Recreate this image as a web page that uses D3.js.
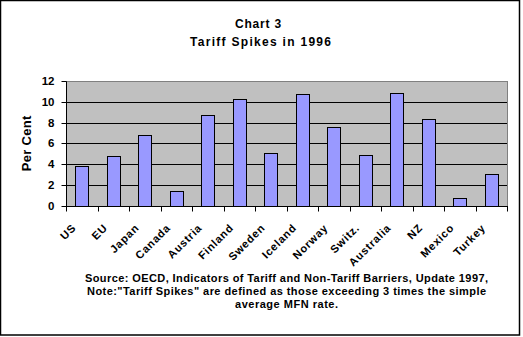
<!DOCTYPE html>
<html>
<head>
<meta charset="utf-8">
<script src="https://cdn.jsdelivr.net/npm/d3@7"></script>
<style>
  html, body { margin: 0; padding: 0; background: #fff; }
  svg { display: block; }
  text { font-family: Arial, "Liberation Sans", sans-serif; font-weight: bold; fill: #000; }
</style>
</head>
<body>
<svg id="chart" width="523" height="337"></svg>
<script>
// Tariff spikes by economy, 1996 (per cent)
const categories = ["US", "EU", "Japan", "Canada", "Austria", "Finland", "Sweden",
  "Iceland", "Norway", "Switz.", "Australia", "NZ", "Mexico", "Turkey"];
const spikes = [3.8, 4.8, 6.8, 1.4, 8.7, 10.3, 5.1, 10.7, 7.6, 4.9, 10.8, 8.3, 0.7, 3.0];
const yTicks = [0, 2, 4, 6, 8, 10, 12];
const titleLines = ["Chart 3", "Tariff Spikes in 1996"];
const yTitle = "Per Cent";
const noteLines = [
  "Source: OECD, Indicators of Tariff and Non-Tariff Barriers, Update 1997,",
  "Note:\"Tariff Spikes\" are defined as those exceeding 3 times the simple",
  "average MFN rate."
];

const svg = d3.select("#chart");

// outer frame
svg.append("rect")
  .attr("x", 0.5).attr("y", 0.5)
  .attr("width", 519).attr("height", 334.5)
  .attr("fill", "#fff").attr("stroke", "#000").attr("stroke-width", 1.5);

// plot area
const plot = { left: 66, right: 507, top: 81, bottom: 205.5 };

const x = d3.scaleBand()
  .domain(categories)
  .range([plot.left, plot.right])
  .paddingInner(0.6)
  .paddingOuter(0.3);
const xEdge = d3.scaleLinear().domain([0, categories.length]).range([plot.left, plot.right]);
const y = d3.scaleLinear().domain([0, 12]).range([plot.bottom, plot.top]);
const crisp = v => Math.round(v) + 0.5;

svg.append("rect")
  .attr("x", plot.left + 0.5).attr("y", crisp(y(12)))
  .attr("width", plot.right - plot.left).attr("height", crisp(y(0)) - crisp(y(12)))
  .attr("fill", "#c0c0c0").attr("stroke", "#808080").attr("stroke-width", 1);

// horizontal gridlines
svg.append("g").selectAll("line")
  .data(yTicks.filter(t => t > 0 && t < 12))
  .join("line")
  .attr("x1", plot.left).attr("x2", plot.right)
  .attr("y1", d => crisp(y(d))).attr("y2", d => crisp(y(d)))
  .attr("stroke", "#000").attr("stroke-width", 1);

// bars
svg.append("g").selectAll("rect")
  .data(categories.map((c, i) => ({ c, v: spikes[i] })))
  .join("rect")
  .attr("x", d => Math.round(x(d.c)) + 0.5)
  .attr("width", Math.round(x.bandwidth()))
  .attr("y", d => crisp(y(d.v)))
  .attr("height", d => crisp(y(0)) - crisp(y(d.v)))
  .attr("fill", "#9999ff").attr("stroke", "#000").attr("stroke-width", 1);

// y axis
const yAxis = d3.axisLeft(y).tickValues(yTicks).tickSize(5).tickPadding(7);
const gy = svg.append("g").attr("transform", `translate(${plot.left + 0.5},0)`).call(yAxis);
gy.select(".domain").remove();
gy.selectAll(".tick").attr("transform", d => `translate(0,${crisp(y(d))})`);
gy.selectAll(".tick line").attr("stroke", "#000");
gy.selectAll(".tick text").style("font-size", "11.5px").attr("fill", "#000")
  .style("font-family", "Arial, 'Liberation Sans', sans-serif").style("font-weight", "bold");
svg.append("line")
  .attr("x1", plot.left + 0.5).attr("x2", plot.left + 0.5)
  .attr("y1", crisp(y(12))).attr("y2", crisp(y(0)))
  .attr("stroke", "#000");

// x axis baseline and category boundary ticks
svg.append("line")
  .attr("x1", plot.left).attr("x2", plot.right + 1)
  .attr("y1", crisp(y(0))).attr("y2", crisp(y(0)))
  .attr("stroke", "#000");
svg.append("g").selectAll("line")
  .data(d3.range(categories.length + 1))
  .join("line")
  .attr("x1", i => Math.round(xEdge(i)) + 0.5).attr("x2", i => Math.round(xEdge(i)) + 0.5)
  .attr("y1", crisp(y(0))).attr("y2", crisp(y(0)) + 5)
  .attr("stroke", "#000");

// rotated category labels
svg.append("g").selectAll("text")
  .data(categories)
  .join("text")
  .attr("transform", c => `translate(${x(c) + x.bandwidth() / 2 - 5},228.5) rotate(-45)`)
  .attr("text-anchor", "end")
  .style("font-size", "11px")
  .style("letter-spacing", "0.8px")
  .text(c => c);

// y axis title
svg.append("text")
  .attr("transform", `translate(31,${(plot.top + plot.bottom) / 2}) rotate(-90)`)
  .attr("text-anchor", "middle")
  .style("font-size", "13px")
  .style("letter-spacing", "0.3px")
  .text(yTitle);

// chart title
svg.append("text")
  .attr("x", 258.5).attr("y", 27.7)
  .attr("text-anchor", "middle")
  .style("font-size", "12px")
  .style("letter-spacing", "0.8px")
  .text(titleLines[0]);
svg.append("text")
  .attr("x", 260.5).attr("y", 45.5)
  .attr("text-anchor", "middle")
  .attr("textLength", 141)
  .attr("lengthAdjust", "spacing")
  .style("font-size", "12px")
  .text(titleLines[1]);

// source note, each line spread to its set width
const noteWidths = [403, 399, 103];
svg.append("g").selectAll("text")
  .data(noteLines)
  .join("text")
  .attr("x", 286.5)
  .attr("y", (d, i) => 281.5 + i * 13.3)
  .attr("text-anchor", "middle")
  .attr("textLength", (d, i) => noteWidths[i])
  .attr("lengthAdjust", "spacing")
  .style("font-size", "11px")
  .text(d => d);
</script>
</body>
</html>
